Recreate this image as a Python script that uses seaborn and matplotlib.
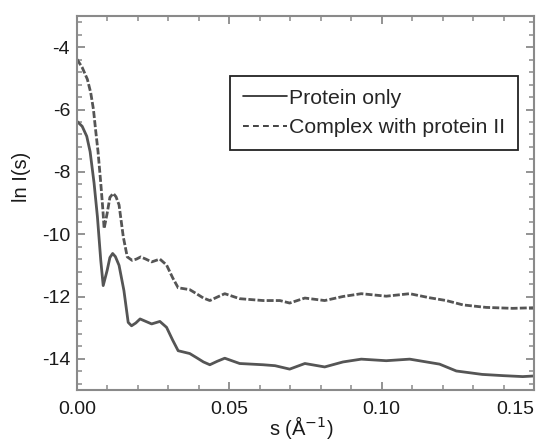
import matplotlib
matplotlib.use("Agg")
import matplotlib.pyplot as plt
from matplotlib.ticker import MultipleLocator
from matplotlib.lines import Line2D
import seaborn as sns
import pandas as pd

# ---- data ----
s_protein = [0.0, 0.0017, 0.0032, 0.0043, 0.0056, 0.0067, 0.0078, 0.0086, 0.0099,
             0.0108, 0.0117, 0.0126, 0.0138, 0.0154, 0.0168, 0.0179, 0.0193, 0.0207,
             0.0226, 0.0245, 0.0272, 0.0294, 0.0314, 0.0332, 0.0370, 0.0392, 0.0415,
             0.0436, 0.0460, 0.0485, 0.0534, 0.0611, 0.0650, 0.0698, 0.0748, 0.0813,
             0.0873, 0.0933, 0.1015, 0.1092, 0.1190, 0.1245, 0.1330, 0.1400, 0.1463, 0.1500]
y_protein = [-6.38, -6.54, -6.86, -7.35, -8.36, -9.44, -10.84, -11.65, -11.16,
             -10.75, -10.62, -10.72, -11.00, -11.81, -12.83, -12.94, -12.85, -12.72,
             -12.80, -12.88, -12.80, -12.99, -13.40, -13.74, -13.83, -13.96, -14.10,
             -14.19, -14.08, -13.98, -14.15, -14.19, -14.22, -14.33, -14.15, -14.26,
             -14.10, -14.01, -14.06, -14.01, -14.17, -14.39, -14.50, -14.54, -14.57, -14.55]

s_complex = [0.0, 0.0017, 0.0034, 0.0045, 0.0054, 0.0061, 0.0069, 0.0078, 0.0085,
             0.0089, 0.0099, 0.0108, 0.0119, 0.0128, 0.0138, 0.0152, 0.0165, 0.0181,
             0.0195, 0.0209, 0.0226, 0.0245, 0.0272, 0.0294, 0.0314, 0.0332, 0.0370,
             0.0392, 0.0415, 0.0436, 0.0460, 0.0485, 0.0534, 0.0611, 0.0666, 0.0698,
             0.0748, 0.0813, 0.0873, 0.0933, 0.1015, 0.1092, 0.1157, 0.1212, 0.1267,
             0.1343, 0.1430, 0.1500]
y_complex = [-4.39, -4.65, -5.03, -5.46, -6.00, -6.65, -7.35, -8.36, -9.23,
             -9.82, -9.33, -8.82, -8.69, -8.80, -9.06, -10.09, -10.73, -10.84,
             -10.80, -10.73, -10.80, -10.89, -10.80, -10.99, -11.40, -11.72, -11.78,
             -11.91, -12.05, -12.13, -12.02, -11.91, -12.07, -12.13, -12.13, -12.21,
             -12.05, -12.13, -12.00, -11.91, -11.99, -11.91, -12.04, -12.13, -12.27,
             -12.35, -12.38, -12.36]

labels = ["Protein only", "Complex with protein II"]
x_ticks = [0.00, 0.05, 0.10, 0.15]
x_ticklabels = ["0.00", "0.05", "0.10", "0.15"]
y_ticks = [-4, -6, -8, -10, -12, -14]

# ---- plot ----
sns.set_style("ticks")
plt.rcParams['font.family'] = ['Liberation Sans', 'DejaVu Sans']
plt.rcParams['axes.unicode_minus'] = False

fig = plt.figure(figsize=(5.48, 4.45), dpi=100)
ax = fig.add_axes([77/548, 1-390/445, (534-77)/548, (390-16)/445])

line_col = "#555555"
df_p = pd.DataFrame({"s": s_protein, "y": y_protein})
df_c = pd.DataFrame({"s": s_complex, "y": y_complex})
sns.lineplot(data=df_p, x="s", y="y", ax=ax, color=line_col, lw=2.0, sort=False)
sns.lineplot(data=df_c, x="s", y="y", ax=ax, color=line_col, lw=2.0, sort=False,
             linestyle=(0, (2.5, 0.8)))

ax.set_xlim(0, 0.15)
ax.set_ylim(-15, -3)
ax.set_xticks(x_ticks)
ax.set_xticklabels(x_ticklabels)
ax.set_yticks(y_ticks)
ax.xaxis.set_minor_locator(MultipleLocator(0.01))
ax.yaxis.set_minor_locator(MultipleLocator(0.4))

spine_col = "#8a8a8a"
for sp in ax.spines.values():
    sp.set_visible(True)
    sp.set_color(spine_col)
    sp.set_linewidth(1.5)
ax.tick_params(which="both", direction="in", top=True, right=True, color=spine_col,
               labelsize=14, labelcolor="#1a1a1a")
ax.tick_params(which="major", length=6, width=1.3)
ax.tick_params(axis="x", which="major", pad=8)
ax.tick_params(axis="y", which="major", pad=5)
ax.tick_params(which="minor", length=3.5, width=1.1)

ax.set_xlabel("s (Å$^{-1}$)", fontsize=14.5, color="#1a1a1a")
ax.set_ylabel("ln I(s)", fontsize=14.5, color="#1a1a1a")
ax.xaxis.set_label_coords(0.49, -0.065)
ax.yaxis.set_label_coords(-0.1, 0.57)

handles = [Line2D([], [], color="#222222", lw=1.2),
           Line2D([], [], color="#222222", lw=1.2, linestyle=(0, (3.5, 2.5)))]
leg = ax.legend(handles, labels, loc="upper left", bbox_to_anchor=(230/548, 1-76/445),
                bbox_transform=fig.transFigure, fontsize=15.3, frameon=True,
                fancybox=False, edgecolor="#222222", framealpha=1,
                handlelength=2.1, handletextpad=0.08, borderpad=0.6,
                labelspacing=0.5, borderaxespad=0)
leg.get_frame().set_linewidth(1.3)

fig.canvas.draw()
for tick in ax.xaxis.get_major_ticks():
    if tick.label1.get_text() == "0.15":
        tick.label1.set_horizontalalignment("right")

fig.savefig("out.png", dpi=100)
